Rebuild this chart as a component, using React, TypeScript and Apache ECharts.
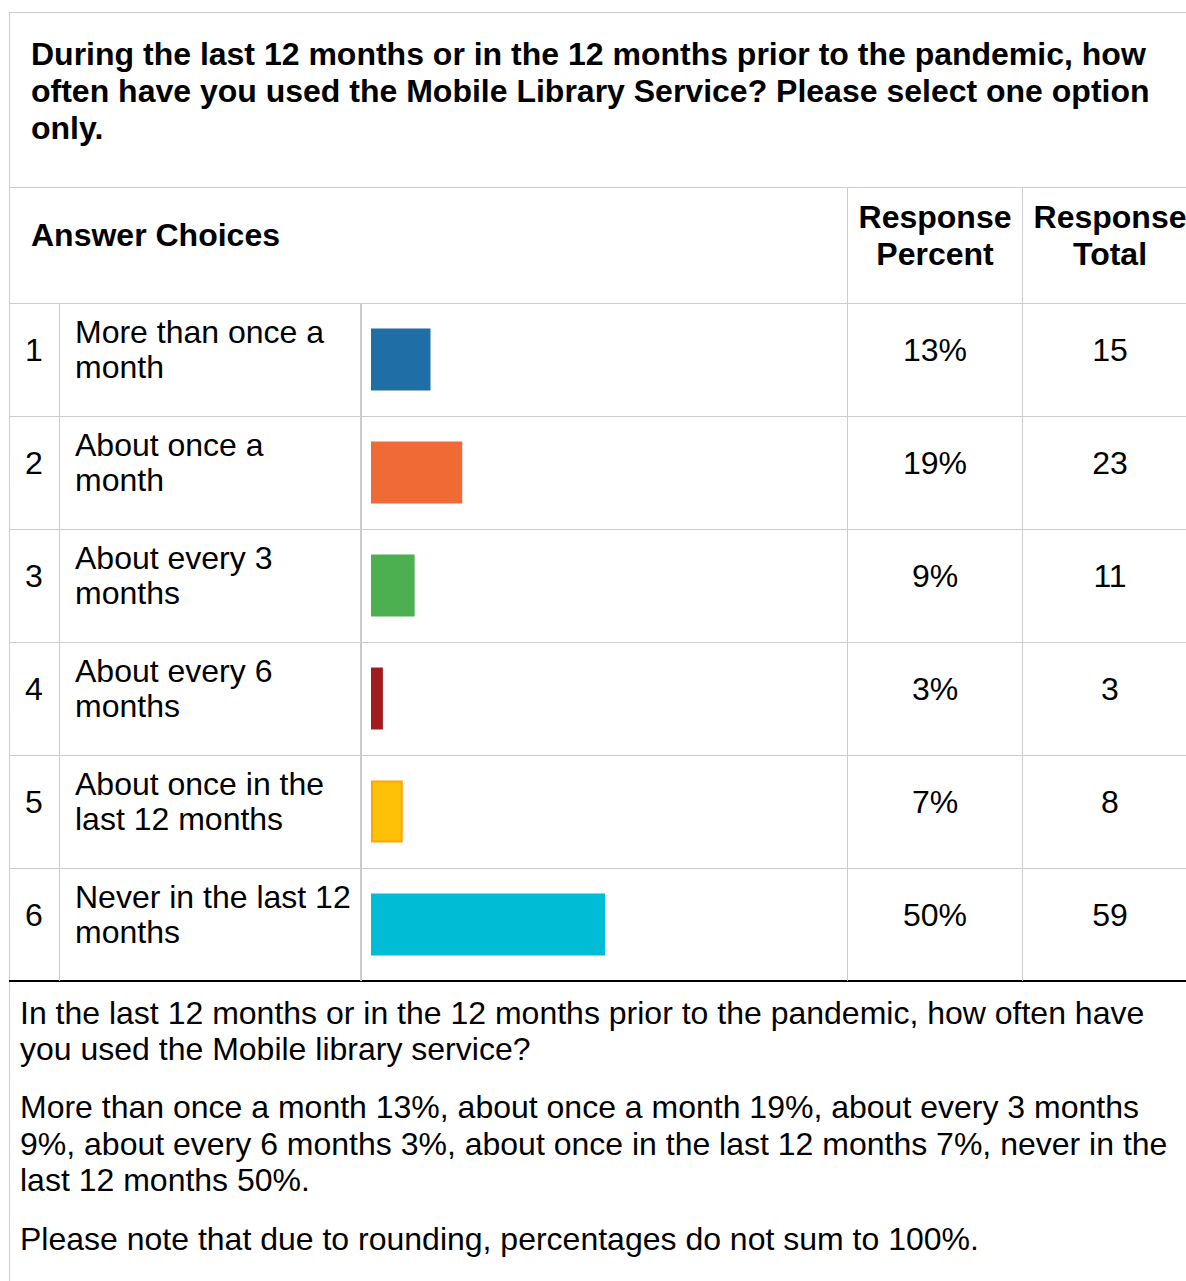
import React, { useEffect, useRef } from "react";
import * as echarts from "echarts";

const questionTitle =
  "During the last 12 months or in the 12 months prior to the pandemic, how\noften have you used the Mobile Library Service? Please select one option\nonly.";
const rowNumbers = ["1", "2", "3", "4", "5", "6"];
const answerChoices = [
  "More than once a\nmonth",
  "About once a\nmonth",
  "About every 3\nmonths",
  "About every 6\nmonths",
  "About once in the\nlast 12 months",
  "Never in the last 12\nmonths",
];
const responsePercent = [13, 19, 9, 3, 7, 50];
const responseTotal = [15, 23, 11, 3, 8, 59];
const barColors = ["#1f6ea5", "#f06a35", "#4caf50", "#a21b1f", "#ffc107", "#00bcd4"];
const barBorders = ["#1f6ea5", "#f06a35", "#4caf50", "#a21b1f", "#ffa500", "#00bcd4"];
const footerParagraphs = [
  "In the last 12 months or in the 12 months prior to the pandemic, how often have\nyou used the Mobile library service?",
  "More than once a month 13%, about once a month 19%, about every 3 months\n9%, about every 6 months 3%, about once in the last 12 months 7%, never in the\nlast 12 months 50%.",
  "Please note that due to rounding, percentages do not sum to 100%.",
];

const FONT = '"Liberation Sans", Arial, Helvetica, sans-serif';
const GRAY = "#cccccc";
const FS = 32;

export default function App() {
  const ref = useRef<HTMLDivElement>(null);
  useEffect(() => {
    if (!ref.current) return;
    const chart = echarts.init(ref.current, null, { renderer: "svg" });
    const totalSum = responseTotal.reduce((a, b) => a + b, 0);

    const hLine = (y: number, color = GRAY, w = 1) => ({
      type: "line",
      silent: true,
      shape: { x1: 9, y1: y, x2: 1186, y2: y },
      style: { stroke: color, lineWidth: w },
    });
    const vLine = (x: number, y1: number, y2: number, w = 1) => ({
      type: "line",
      silent: true,
      shape: { x1: x, y1, x2: x, y2 },
      style: { stroke: GRAY, lineWidth: w },
    });
    const text = (x: number, y: number, t: string, opts: any = {}) => ({
      type: "text",
      silent: true,
      x,
      y,
      style: {
        text: t,
        fill: "#000",
        font: `${opts.bold ? "bold " : ""}${FS}px ${FONT}`,
        align: opts.align || "left",
        verticalAlign: opts.va || "middle",
        lineHeight: opts.lh || 36,
      },
    });

    const rowBoundaries = [303.5, 416.5, 529.5, 642.5, 755.5, 868.5];

    const commonCat = {
      type: "category",
      inverse: true,
      gridIndex: 1,
      axisLine: { show: false },
      axisTick: { show: false },
      splitLine: { show: false },
    };
    const labelStyle = {
      color: "#000",
      fontFamily: FONT,
      fontSize: FS,
      lineHeight: 35,
    };

    chart.setOption({
      animation: false,
      backgroundColor: "#fff",
      grid: [
        {
          left: 371,
          top: 303,
          width: 472,
          height: 678,
          containLabel: false,
          outerBoundsMode: "none",
        },
        {
          left: 371,
          top: 293,
          width: 472,
          height: 678,
          containLabel: false,
          outerBoundsMode: "none",
        },
      ],
      xAxis: [
        { type: "value", gridIndex: 0, min: 0, max: totalSum, show: false },
        { type: "value", gridIndex: 1, min: 0, max: totalSum, show: false },
      ],
      yAxis: [
        {
          type: "category",
          inverse: true,
          gridIndex: 0,
          data: answerChoices,
          show: false,
        },
        {
          ...commonCat,
          position: "left",
          data: answerChoices,
          axisLabel: { ...labelStyle, align: "left", margin: 296 },
        },
        {
          ...commonCat,
          position: "left",
          data: rowNumbers,
          axisLabel: { ...labelStyle, align: "center", margin: 337 },
        },
        {
          ...commonCat,
          position: "right",
          data: responsePercent.map((v) => `${v}%`),
          axisLabel: { ...labelStyle, align: "center", margin: 92 },
        },
        {
          ...commonCat,
          position: "right",
          data: responseTotal.map((v) => `${v}`),
          axisLabel: { ...labelStyle, align: "center", margin: 267 },
        },
      ],
      series: [
        {
          type: "bar",
          xAxisIndex: 0,
          yAxisIndex: 0,
          barWidth: 62,
          silent: true,
          data: responseTotal.map((v, i) => ({
            value: v,
            itemStyle: {
              color: barColors[i],
              borderColor: barBorders[i],
              borderWidth: barBorders[i] !== barColors[i] ? 2 : 0,
            },
          })),
        },
      ],
      graphic: [
        hLine(12.5),
        vLine(9.5, 12, 1281),
        hLine(187.5),
        ...rowBoundaries.map((y) => hLine(y)),
        hLine(981, "#000", 2),
        vLine(59.5, 303, 981),
        vLine(361, 303, 981, 2),
        vLine(847.5, 187, 981),
        vLine(1022.5, 187, 981),
        text(31, 35, questionTitle, { bold: true, va: "top", lh: 37 }),
        text(31, 235, "Answer Choices", { bold: true }),
        text(935, 235.5, "Response\nPercent", { bold: true, align: "center", lh: 37 }),
        text(1110, 235.5, "Response\nTotal", { bold: true, align: "center", lh: 37 }),
        text(20, 995, footerParagraphs[0], { va: "top", lh: 36 }),
        text(20, 1089, footerParagraphs[1], { va: "top", lh: 36.5 }),
        text(20, 1221, footerParagraphs[2], { va: "top", lh: 36 }),
      ],
    });
    return () => chart.dispose();
  }, []);

  return (
    <div
      ref={ref}
      style={{ position: "fixed", left: 0, top: 0, width: 1186, height: 1281, background: "#fff" }}
    />
  );
}
